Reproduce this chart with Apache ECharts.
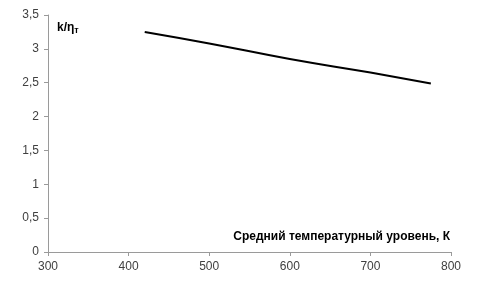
<!DOCTYPE html>
<html><head><meta charset="utf-8">
<script src="https://cdn.jsdelivr.net/npm/echarts@6/dist/echarts.min.js"></script>
<style>html,body{margin:0;padding:0;background:#fff}#c{width:480px;height:290px}</style>
</head><body><div id="c"></div>
<script>
const xValues = [420, 500, 600, 700, 775];
const yValues = [3.25, 3.08, 2.85, 2.65, 2.49];
const xName = 'Средний температурный уровень, К';
const yNameMain = 'k/η';
const yNameSub = 'т';
const chart = echarts.init(document.getElementById('c'));
const font = 'Liberation Sans, Arial, sans-serif';
chart.setOption({
  animation: false,
  grid: {left: 48, right: 29, top: 15, bottom: 38},
  xAxis: {
    type: 'value', min: 300, max: 800, interval: 100,
    axisLine: {lineStyle: {color: '#9a9a9a'}},
    axisTick: {show: true, length: 4, lineStyle: {color: '#9a9a9a'}},
    axisLabel: {color: '#404040', fontSize: 12, fontFamily: font, margin: 9},
    splitLine: {show: false}
  },
  yAxis: {
    type: 'value', min: 0, max: 3.5, interval: 0.5,
    axisLine: {show: true, lineStyle: {color: '#9a9a9a'}},
    axisTick: {show: true, length: 4, lineStyle: {color: '#9a9a9a'}},
    axisLabel: {color: '#404040', fontSize: 12, fontFamily: font, margin: 9,
      formatter: v => String(v).replace('.', ',')},
    splitLine: {show: false}
  },
  graphic: [
    {type: 'text', left: 57, top: 22, style: {
      text: '{m|' + yNameMain + '}{s|' + yNameSub + '}',
      rich: {
        m: {fontSize: 12, fontWeight: 'bold', fontFamily: font, fill: '#000'},
        s: {fontSize: 9, fontWeight: 'bold', fontFamily: font, fill: '#000', padding: [5, 0, 0, 0]}
      }}},
    {type: 'text', right: 30, top: 231, style: {
      text: xName, fontSize: 12, fontWeight: 'bold', fontFamily: font, fill: '#000'}}
  ],
  series: [{
    type: 'line', smooth: true, symbol: 'none',
    lineStyle: {color: '#000', width: 2},
    data: xValues.map((x, i) => [x, yValues[i]])
  }]
});
</script></body></html>
